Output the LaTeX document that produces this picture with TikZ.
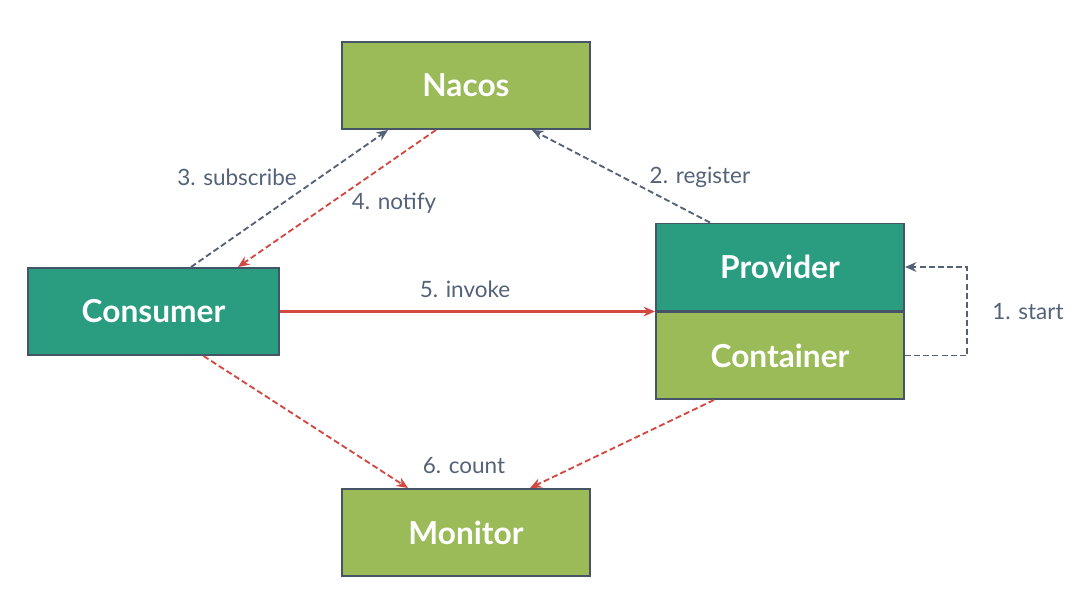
\documentclass[tikz,border=0pt]{standalone}
\usepackage{fontspec}
\setmainfont{Lato}
\usepackage{xcolor}
\definecolor{leaf}{RGB}{155,187,89}
\definecolor{teal}{RGB}{42,157,128}
\definecolor{frame}{RGB}{70,84,104}
\definecolor{slate}{RGB}{84,98,120}
\definecolor{alert}{RGB}{212,72,66}
\usepackage{tikz}
\usetikzlibrary{arrows.meta, positioning, calc}

\begin{document}
\begin{tikzpicture}[
        box/.style={rectangle, draw=frame, line width=1.1pt, fill=#1, minimum width=4.96cm, minimum height=1.74cm, text=white, font=\fontsize{18}{21}\selectfont\bfseries},
        lbl/.style={text=slate, font=\fontsize{12.8}{15}\selectfont},
        flow/.style={line width=1.05pt, dash pattern=on 3.4pt off 1.8pt, -{Stealth[length=6.5pt, width=5.5pt]}, draw=#1}
    ]
        \useasboundingbox (0,0) rectangle (21.6,-11.94);

        % Registry
        \node[box=leaf] (nacos) at (9.32, -1.71) {Nacos};

        % Consumer side
        \node[box=teal, minimum width=5.02cm] (consumer) at (3.07, -6.23) {Consumer};

        % Provider side
        \node[box=teal] (provider) at (15.6, -5.34) {Provider};
        \node[box=leaf] (container) at (15.6, -7.11) {Container};

        % Monitoring
        \node[box=leaf] (monitor) at (9.32, -10.65) {Monitor};

        % Connections
        \draw[flow=slate] (container.east) -- ++(1.24cm,0) |- (provider.east);
        \draw[flow=slate] ([xshift=-1.4cm]provider.north) -- ([xshift=1.32cm]nacos.south);
        \draw[flow=slate] ([xshift=0.75cm]consumer.north) -- ([xshift=-1.56cm]nacos.south);
        \draw[flow=alert] ([xshift=-0.6cm]nacos.south) -- ([xshift=1.69cm]consumer.north);
        \draw[flow=alert, solid, line width=1.2pt] (consumer.east) -- (consumer.east -| provider.west);
        \draw[flow=alert] ([xshift=1cm]consumer.south) -- ([xshift=-1.16cm]monitor.north);
        \draw[flow=alert] ([xshift=-1.32cm]container.south) -- ([xshift=1.28cm]monitor.north);

        % Labels
        \node[lbl] (startlbl) at (20.56, -6.24) {1. start};
        \node[lbl] (reglbl) at (14.0, -3.54) {2. register};
        \node[lbl] (sublbl) at (4.74, -3.54) {3. subscribe};
        \node[lbl] (notlbl) at (7.88, -4.06) {4. notify};
        \node[lbl] (invlbl) at (9.3, -5.78) {5. invoke};
        \node[lbl] (cntlbl) at (9.28, -9.32) {6. count};
    \end{tikzpicture}
\end{document}
